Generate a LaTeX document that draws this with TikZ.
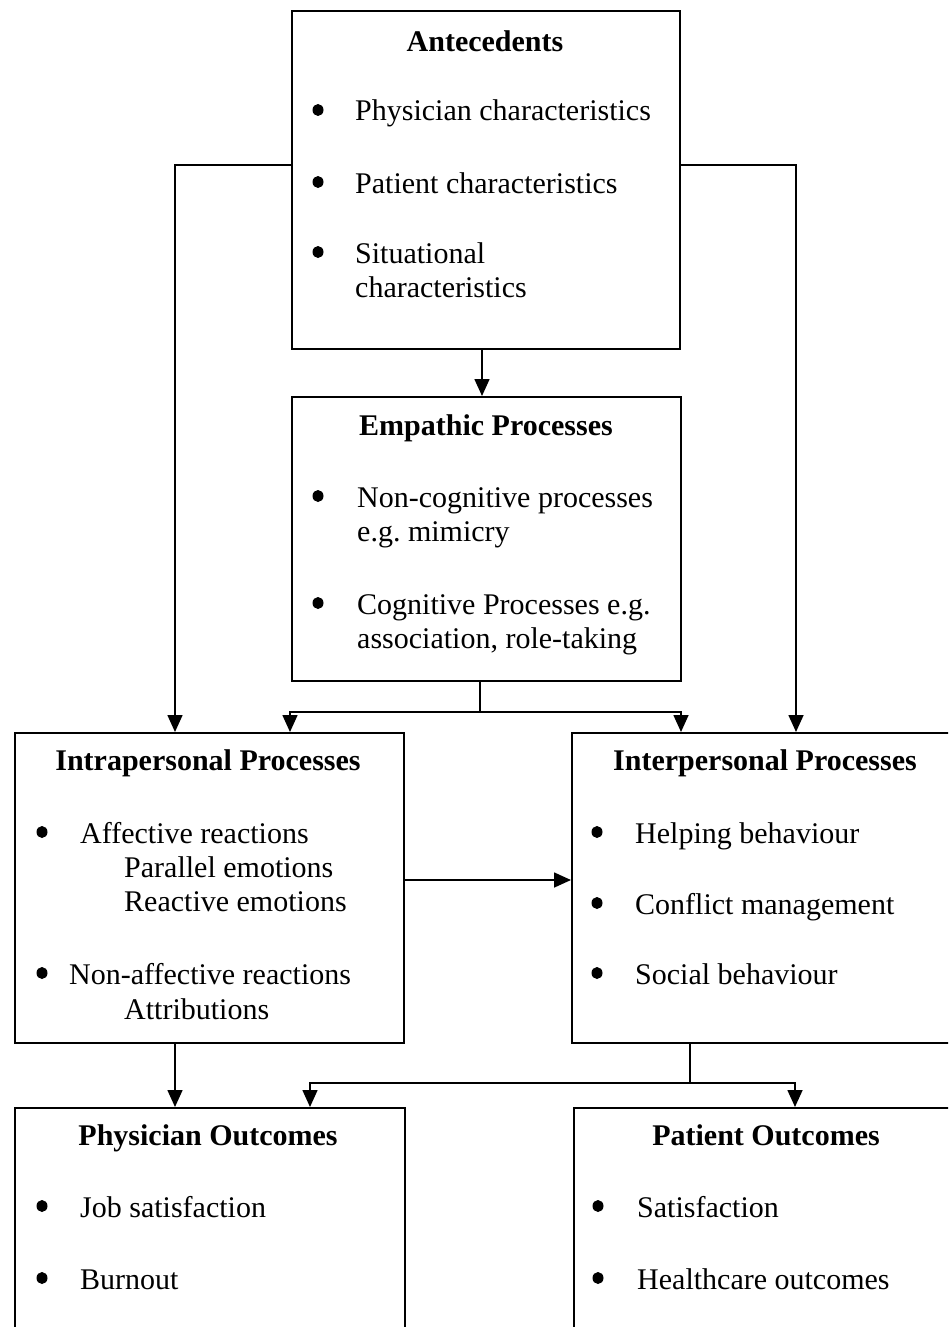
\documentclass[tikz,border=0pt]{standalone}
\usepackage{fontspec}
\setmainfont{Liberation Serif}
\usetikzlibrary{arrows.meta,shapes.geometric}
\frenchspacing
\begin{document}
\begin{tikzpicture}[x=1pt,y=-1pt,
  box/.style={draw,line width=1.6pt,rectangle,inner sep=0pt,anchor=north west},
  txt/.style={inner sep=0pt,anchor=base west,font=\fontsize{30}{34.5}\selectfont},
  ttl/.style={inner sep=0pt,anchor=base,font=\fontsize{30}{34.5}\selectfont\bfseries},
  bul/.style={ellipse,fill,inner sep=0pt,minimum width=11pt,minimum height=12pt},
  arr/.style={line width=1.6pt,-{Triangle[length=17pt,width=15pt]}},
  ln/.style={line width=1.6pt}]
\useasboundingbox (0,0) rectangle (948,1327);
\clip (0,0) rectangle (948,1327);
% boxes
\node[box,minimum width=388pt,minimum height=338pt] (ante) at (291,10) {};
\node[box,minimum width=389pt,minimum height=284pt] (emp) at (291,396) {};
\node[box,minimum width=389pt,minimum height=310pt] (intra) at (14,732) {};
\node[box,minimum width=400pt,minimum height=310pt] (inter) at (571,732) {};
\node[box,minimum width=390pt,minimum height=240pt] (phys) at (14,1107) {};
\node[box,minimum width=400pt,minimum height=240pt] (pat) at (573,1107) {};
% Antecedents text
\node[ttl] (t1) at (485,52) {Antecedents};
\node[bul] (b11) at (318,110) {};
\node[txt] (a1) at (355,121) {Physician characteristics};
\node[bul] (b12) at (318,182) {};
\node[txt] (a2) at (355,193) {Patient characteristics};
\node[bul] (b13) at (318,252) {};
\node[txt] (a3) at (355,263) {Situational};
\node[txt] (a4) at (355,297) {characteristics};
% Empathic
\node[ttl] (t2) at (486,435) {Empathic Processes};
\node[bul] (b21) at (318,496) {};
\node[txt] (e1) at (357,507) {Non-cognitive processes};
\node[txt] (e2) at (357,541) {e.g. mimicry};
\node[bul] (b22) at (318,603) {};
\node[txt] (e3) at (357,614) {Cognitive Processes e.g.};
\node[txt] (e4) at (357,648) {association, role-taking};
% Intrapersonal
\node[ttl] (t3) at (208,770) {Intrapersonal Processes};
\node[bul] (b31) at (42,832) {};
\node[txt] (i1) at (80,843) {Affective reactions};
\node[txt] (i2) at (124,877) {Parallel emotions};
\node[txt] (i3) at (124,911) {Reactive emotions};
\node[bul] (b32) at (42,973) {};
\node[txt] (i4) at (69,984) {Non-affective reactions};
\node[txt] (i5) at (124,1019) {Attributions};
% Interpersonal
\node[ttl] (t4) at (765,770) {Interpersonal Processes};
\node[bul] (b41) at (597,832) {};
\node[txt] (n1) at (635,843) {Helping behaviour};
\node[bul] (b42) at (597,903) {};
\node[txt] (n2) at (635,914) {Conflict management};
\node[bul] (b43) at (597,973) {};
\node[txt] (n3) at (635,984) {Social behaviour};
% Physician outcomes
\node[ttl] (t5) at (208,1145) {Physician Outcomes};
\node[bul] (b51) at (42,1206) {};
\node[txt] (p1) at (80,1217) {Job satisfaction};
\node[bul] (b52) at (42,1278) {};
\node[txt] (p2) at (80,1289) {Burnout};
% Patient outcomes
\node[ttl] (t6) at (766,1145) {Patient Outcomes};
\node[bul] (b61) at (598,1206) {};
\node[txt] (q1) at (637,1217) {Satisfaction};
\node[bul] (b62) at (598,1278) {};
\node[txt] (q2) at (637,1289) {Healthcare outcomes};
% connector points
\coordinate (aS) at (482,348);
\coordinate (eN) at (482,396);
\coordinate (aL) at (291,165);
\coordinate (aR) at (679,165);
\coordinate (iA) at (175,732);
\coordinate (iB) at (290,732);
\coordinate (nA) at (681,732);
\coordinate (nB) at (796,732);
\coordinate (eS) at (480,680);
\coordinate (eJ) at (480,712);
\coordinate (iR) at (403,880);
\coordinate (nL) at (571,880);
\coordinate (iS) at (175,1042);
\coordinate (pA) at (175,1107);
\coordinate (pB) at (310,1107);
\coordinate (nS) at (690,1042);
\coordinate (nJ) at (690,1083);
\coordinate (qA) at (795,1107);
% connectors
\draw[arr] (aS) -- (eN);
\draw[arr] (aL) -| (iA);
\draw[arr] (aR) -| (nB);
\draw[ln] (eS) -- (eJ);
\draw[arr] (eJ) -| (iB);
\draw[arr] (eJ) -| (nA);
\draw[arr] (iR) -- (nL);
\draw[arr] (iS) -- (pA);
\draw[ln] (nS) -- (nJ);
\draw[arr] (nJ) -| (pB);
\draw[arr] (nJ) -| (qA);
\end{tikzpicture}
\end{document}
